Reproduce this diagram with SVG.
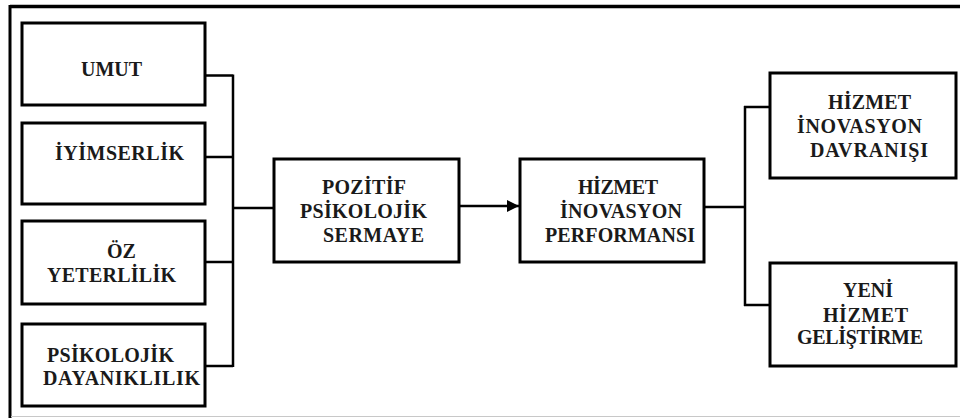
<svg xmlns="http://www.w3.org/2000/svg" width="960" height="418" viewBox="0 0 960 418">
<style>
.box{fill:#fff;stroke:#000;stroke-width:3}
.ln{fill:none;stroke:#000;stroke-width:2.5}
.t{font-family:'Liberation Serif','Times New Roman',serif;font-weight:bold;font-size:20px;fill:#1a1a1a}
</style>
<defs>
<marker id="ah" markerWidth="12" markerHeight="12" refX="12" refY="6" orient="auto" markerUnits="userSpaceOnUse">
<path d="M0,0 L12,6 L0,12 Z" fill="#000"/>
</marker>
</defs>
<rect x="0" y="0" width="960" height="418" fill="#fff"/>
<g id="frame">
<line x1="10" y1="6.5" x2="960" y2="6.5" stroke="#000" stroke-width="3.5"/>
<line x1="10" y1="5" x2="10" y2="418" stroke="#000" stroke-width="3"/>
<line x1="11" y1="416.5" x2="960" y2="416.5" stroke="#c8c8c8" stroke-width="1.2"/>
</g>
<g id="connectors">
<path class="ln" d="M205,75.5 H233 M205,157 H233 M205,262 H233 M205,366 H233 M233,74.5 V367 M233,208 H274"/>
<line class="ln" x1="459" y1="206" x2="519" y2="206" marker-end="url(#ah)"/>
<path class="ln" d="M704,207 H745 M745,106 V306 M744,107 H770 M744,305 H770"/>
</g>
<g id="umut">
<rect class="box" x="22" y="23" width="183" height="82"/>
<text class="t" x="81" y="76" textLength="61" lengthAdjust="spacing">UMUT</text>
</g>
<g id="iyimserlik">
<rect class="box" x="22" y="123" width="183" height="81"/>
<text class="t" x="55" y="160" textLength="129" lengthAdjust="spacing">İYİMSERLİK</text>
</g>
<g id="oz-yeterlilik">
<rect class="box" x="22" y="221" width="183" height="83"/>
<text class="t" x="107" y="258">ÖZ</text>
<text class="t" x="47" y="282" textLength="129" lengthAdjust="spacing">YETERLİLİK</text>
</g>
<g id="psikolojik-dayaniklilik">
<rect class="box" x="22" y="324" width="183" height="82"/>
<text class="t" x="47" y="362" textLength="127" lengthAdjust="spacing">PSİKOLOJİK</text>
<text class="t" x="43" y="385" textLength="157" lengthAdjust="spacing">DAYANIKLILIK</text>
</g>
<g id="pozitif-psikolojik-sermaye">
<rect class="box" x="274" y="159" width="185" height="103"/>
<text class="t" x="322" y="194" textLength="84" lengthAdjust="spacing">POZİTİF</text>
<text class="t" x="300" y="218" textLength="127" lengthAdjust="spacing">PSİKOLOJİK</text>
<text class="t" x="323" y="242" textLength="101" lengthAdjust="spacing">SERMAYE</text>
</g>
<g id="hizmet-inovasyon-performansi">
<rect class="box" x="520" y="159" width="184" height="103"/>
<text class="t" x="578" y="194" textLength="80" lengthAdjust="spacing">HİZMET</text>
<text class="t" x="560" y="218" textLength="122" lengthAdjust="spacing">İNOVASYON</text>
<text class="t" x="545" y="242" textLength="150" lengthAdjust="spacing">PERFORMANSI</text>
</g>
<g id="hizmet-inovasyon-davranisi">
<rect class="box" x="770" y="73" width="186" height="105"/>
<text class="t" x="828" y="109" textLength="83" lengthAdjust="spacing">HİZMET</text>
<text class="t" x="797" y="133" textLength="125" lengthAdjust="spacing">İNOVASYON</text>
<text class="t" x="810" y="157" textLength="118" lengthAdjust="spacing">DAVRANIŞI</text>
</g>
<g id="yeni-hizmet-gelistirme">
<rect class="box" x="770" y="263" width="186" height="103"/>
<text class="t" x="843" y="297" textLength="50" lengthAdjust="spacing">YENİ</text>
<text class="t" x="823" y="322" textLength="85" lengthAdjust="spacing">HİZMET</text>
<text class="t" x="797" y="344" textLength="126" lengthAdjust="spacing">GELİŞTİRME</text>
</g>
</svg>
